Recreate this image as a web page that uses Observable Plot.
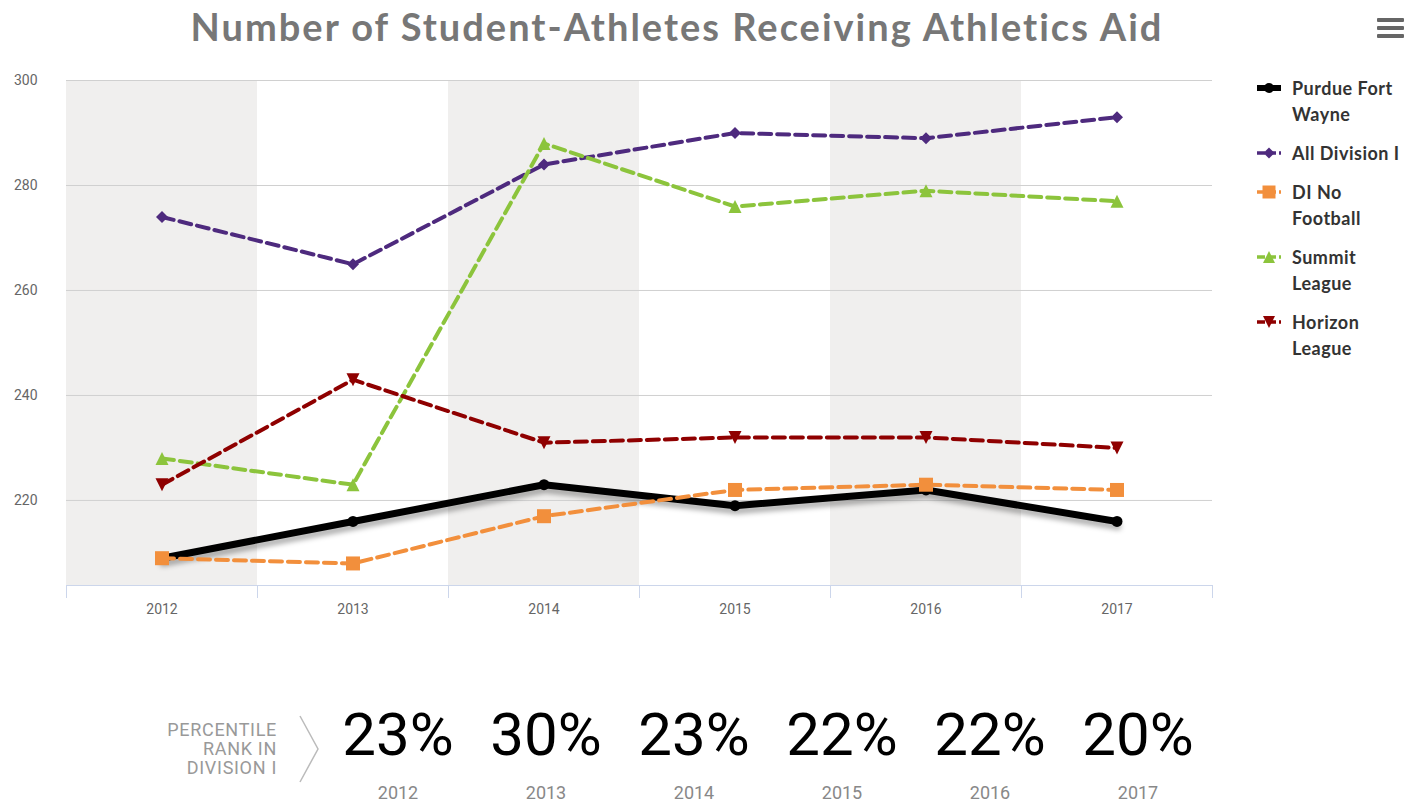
<!DOCTYPE html>
<html>
<head>
<meta charset="utf-8">
<script src="https://cdn.jsdelivr.net/npm/d3@7"></script>
<script src="https://cdn.jsdelivr.net/npm/@observablehq/plot@0.6"></script>
<style>
  body { margin:0; width:1422px; height:805px; position:relative; overflow:hidden; background:#fff; font-family: Roboto, sans-serif; }
  #title { position:absolute; top:3px; left:0; width:1354px; text-align:center; font: 700 38px Lato, sans-serif; letter-spacing:2px; color:#777; white-space:nowrap; }
  #menu { position:absolute; left:1377px; top:18px; width:27px; }
  #menu div { height:4px; background:#666; margin-bottom:4px; border-radius:1px; }
  #chart { position:absolute; left:0; top:60px; }
  #legend { position:absolute; left:1256px; top:75px; font: 700 18px Lato, sans-serif; letter-spacing:0.5px; color:#333; }
  .item { display:flex; align-items:flex-start; margin-bottom:13px; line-height:26px; }
  .item svg { flex:none; margin-right:10px; margin-top:1px; }
  #rank { position:absolute; left:100px; top:720px; width:177px; text-align:right; font: 400 18px Roboto, sans-serif; letter-spacing:0.7px; color:#999; line-height:19px; }
  #chev { position:absolute; left:296px; top:714px; }
  .pct { position:absolute; width:148px; text-align:center; font: 400 60px Roboto, sans-serif; color:#000; top:700px; line-height:70px; }
  .pyr { position:absolute; width:148px; text-align:center; font: 400 18px Roboto, sans-serif; color:#888; top:782px; line-height:22px; }
</style>
</head>
<body>
<div id="title">Number of Student-Athletes Receiving Athletics Aid</div>
<div id="menu"><div></div><div></div><div></div></div>
<div id="chart"></div>
<div id="legend"></div>
<div id="rank">PERCENTILE<br>RANK IN<br>DIVISION I</div>
<svg id="chev" width="30" height="70"><polyline points="4,2 22,35 4,68" fill="none" stroke="#bbb" stroke-width="1.5"/></svg>
<div id="bottom"></div>
<script>
// ---- data ----
const years = [2012, 2013, 2014, 2015, 2016, 2017];
const seriesNames = ["Purdue Fort Wayne", "All Division I", "DI No Football", "Summit League", "Horizon League"];
const legendLabels = ["Purdue Fort<br>Wayne", "All Division I", "DI No<br>Football", "Summit<br>League", "Horizon<br>League"];
const purdueFortWayne = [209, 216, 223, 219, 222, 216];
const allDivisionI = [274, 265, 284, 290, 289, 293];
const diNoFootball = [209, 208, 217, 222, 223, 222];
const summitLeague = [228, 223, 288, 276, 279, 277];
const horizonLeague = [223, 243, 231, 232, 232, 230];
const yTicks = [220, 240, 260, 280, 300];
const percentileRank = ["23%", "30%", "23%", "22%", "22%", "20%"];
const shadedYears = [2012, 2014, 2016];

const colors = ["#000000", "#4e2a7e", "#f28f3c", "#8cc43c", "#8f0000"];
const symbolNames = ["circle", "diamond", "square", "triangleUp", "triangleDown"];
const yMin = 203.8, yMax = 300;

const R = s => Math.sqrt(s / Math.PI);
const symbols = {
  circle: d3.symbolCircle,
  diamond: { draw(c, s) { const r = R(s); c.moveTo(0, -r); c.lineTo(r, 0); c.lineTo(0, r); c.lineTo(-r, 0); c.closePath(); } },
  square: { draw(c, s) { const r = R(s); c.rect(-r, -r, 2 * r, 2 * r); } },
  triangleUp: { draw(c, s) { const r = R(s); c.moveTo(0, -r); c.lineTo(r, r); c.lineTo(-r, r); c.closePath(); } },
  triangleDown: { draw(c, s) { const r = R(s); c.moveTo(-r, -r); c.lineTo(r, -r); c.lineTo(0, r); c.closePath(); } }
};
const radii = [5.5, 6, 7, 6.5, 6.5];

const allValues = [purdueFortWayne, allDivisionI, diNoFootball, summitLeague, horizonLeague];
const data = [];
seriesNames.forEach((name, i) => years.forEach((yr, j) => data.push({ series: name, idx: i, year: yr, value: allValues[i][j] })));
const bounds = years.map(y => y - 0.5).concat([years[years.length - 1] + 0.5]);

const marks = [
  Plot.rect(shadedYears, { x1: d => d - 0.5, x2: d => d + 0.5, y1: () => yMin, y2: () => yMax, fill: "#f0efee" }),
  Plot.ruleY(yTicks, { stroke: "#d0d0d0", strokeWidth: 1 }),
  Plot.ruleY([yMin], { stroke: "#ccd6eb", strokeWidth: 1 }),
  Plot.axisY(yTicks, { tickSize: 0, tickPadding: 29, fontSize: 14, fill: "#666", label: null, tickFormat: d => String(d) }),
  Plot.axisX(bounds, { tickSize: 13, stroke: "#ccd6eb", tickFormat: () => "", label: null }),
  Plot.axisX(years, { tickSize: 0, tickPadding: 19, fontSize: 14, fill: "#666", label: null, tickFormat: d => String(d) }),
  // drop shadow of the Purdue Fort Wayne line
  Plot.line(data.filter(d => d.idx === 0), { x: "year", y: "value", stroke: "#000", strokeWidth: 7, strokeOpacity: 0.3, dx: 1, dy: 5 })
];
seriesNames.forEach((name, i) => {
  const rows = data.filter(d => d.idx === i);
  marks.push(Plot.line(rows, { x: "year", y: "value", stroke: colors[i], strokeWidth: i === 0 ? 7 : 4, strokeDasharray: i === 0 ? null : "12,6", strokeLinejoin: "round" }));
});
seriesNames.forEach((name, i) => {
  const rows = data.filter(d => d.idx === i);
  marks.push(Plot.dot(rows, { x: "year", y: "value", fill: colors[i], stroke: null, r: radii[i], symbol: symbols[symbolNames[i]] }));
});

const chart = Plot.plot({
  width: 1422, height: 565,
  marginLeft: 66, marginRight: 210, marginTop: 20, marginBottom: 40,
  style: { fontFamily: "Roboto, sans-serif", background: "transparent", overflow: "visible" },
  x: { domain: [2011.5, 2017.5], axis: null },
  y: { domain: [yMin, yMax], axis: null },
  marks
});
document.getElementById("chart").appendChild(chart);
const defs = d3.select(chart).insert("defs", ":first-child");
defs.append("filter").attr("id", "lineShadow").attr("x", "-10%").attr("y", "-50%").attr("width", "120%").attr("height", "200%")
  .append("feGaussianBlur").attr("stdDeviation", 2.5);
const lineGroups = chart.querySelectorAll('g[aria-label="line"]');
if (lineGroups.length) lineGroups[0].setAttribute("filter", "url(#lineShadow)");

// legend
const legend = d3.select("#legend");
seriesNames.forEach((name, i) => {
  const item = legend.append("div").attr("class", "item");
  const svg = item.append("svg").attr("width", 26).attr("height", 24);
  svg.append("line").attr("x1", 1).attr("x2", 25).attr("y1", 12).attr("y2", 12)
    .attr("stroke", colors[i]).attr("stroke-width", i === 0 ? 6 : 3.5)
    .attr("stroke-dasharray", i === 0 ? null : "8,3");
  const r = radii[i] - 0.5;
  svg.append("path").attr("transform", "translate(13,12)")
    .attr("d", d3.symbol(symbols[symbolNames[i]], Math.PI * r * r)())
    .attr("fill", colors[i]);
  item.append("div").html(legendLabels[i]);
});

// bottom percentile row
const bottom = d3.select("#bottom");
const centers0 = 398, step = 148;
years.forEach((yr, j) => {
  bottom.append("div").attr("class", "pct").style("left", (centers0 + j * step - 74) + "px").text(percentileRank[j]);
  bottom.append("div").attr("class", "pyr").style("left", (centers0 + j * step - 74) + "px").text(yr);
});
</script>
</body>
</html>
